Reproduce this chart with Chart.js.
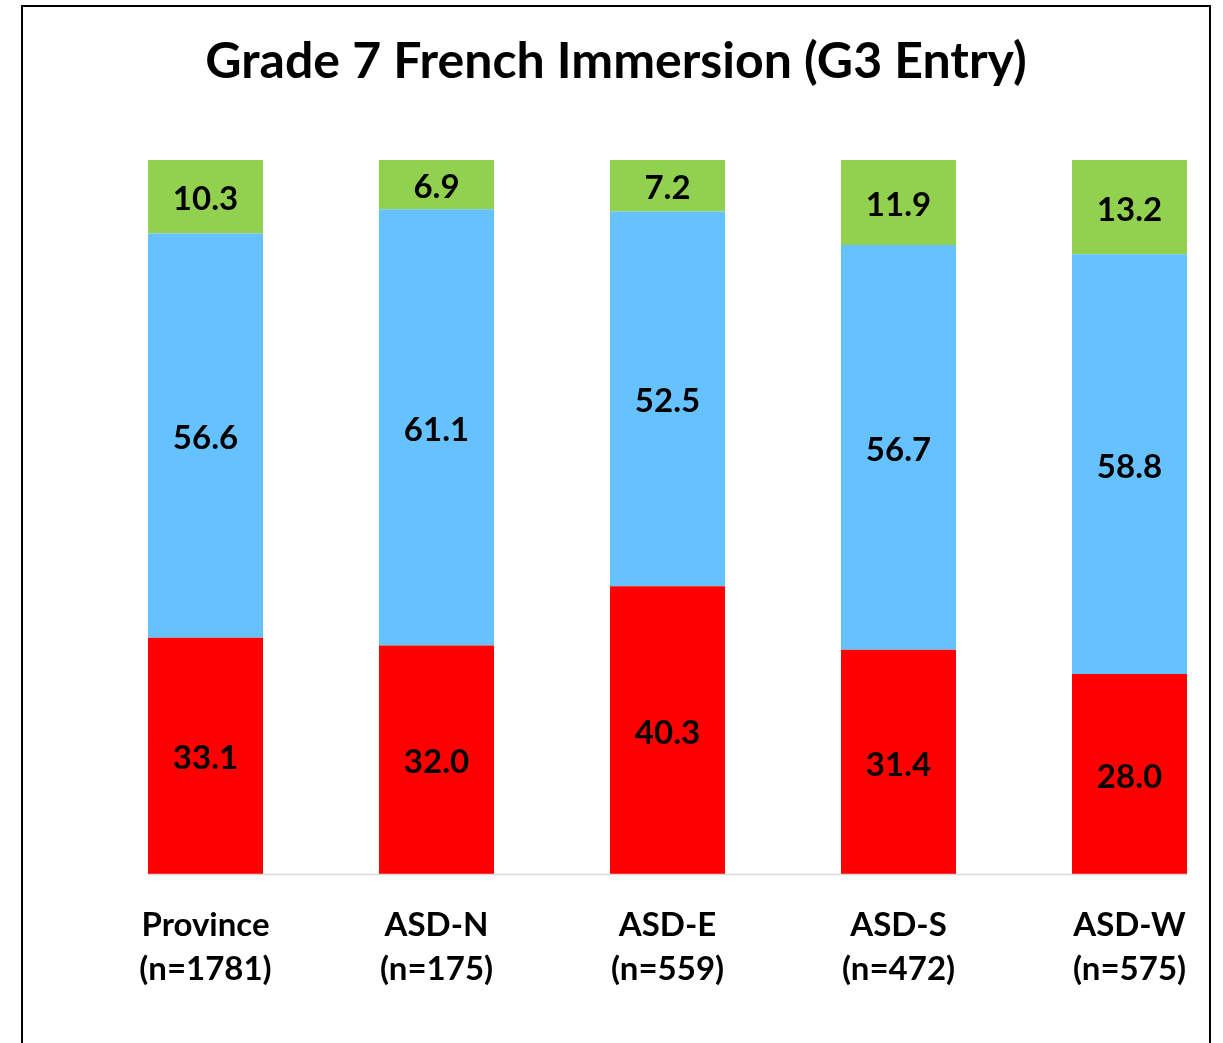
<!DOCTYPE html>
<html><head><meta charset="utf-8">
<script src="https://cdn.jsdelivr.net/npm/chart.js@4/dist/chart.umd.min.js"></script>
<style>html,body{margin:0;padding:0;background:#fff}#wrap{width:1223px;height:1043px;position:relative}canvas{display:block}</style>
</head><body><div id="wrap"><canvas id="c" width="1223" height="1043"></canvas></div>
<script>
const chartTitle = 'Grade 7 French Immersion (G3 Entry)';
const categories = [['Province','(n=1781)'],['ASD-N','(n=175)'],['ASD-E','(n=559)'],['ASD-S','(n=472)'],['ASD-W','(n=575)']];
const redValues = [33.1, 32.0, 40.3, 31.4, 28.0];
const blueValues = [56.6, 61.1, 52.5, 56.7, 58.8];
const greenValues = [10.3, 6.9, 7.2, 11.9, 13.2];
const seriesNames = ['Red', 'Blue', 'Green'];

const FONT = 'Lato, "Open Sans", sans-serif';

const framePlugin = {
  id: 'frame',
  beforeDraw(chart) {
    const ctx = chart.ctx;
    ctx.save();
    ctx.fillStyle = '#fff';
    ctx.fillRect(0, 0, chart.width, chart.height);
    ctx.strokeStyle = '#000';
    ctx.lineWidth = 2;
    ctx.strokeRect(22, 6, 1188, 1100);
    ctx.font = 'bold 50px ' + FONT;
    ctx.fillStyle = '#000';
    ctx.textAlign = 'center';
    ctx.textBaseline = 'alphabetic';
    ctx.fillText(chartTitle, 616, 78);
    ctx.restore();
  }
};

const axisLinePlugin = {
  id: 'axisLine',
  afterDatasetsDraw(chart) {
    const meta = chart.getDatasetMeta(0);
    const els = meta.data;
    if (!els.length) return;
    const first = els[0], last = els[els.length - 1];
    const x0 = first.x - first.width / 2;
    const x1 = last.x + last.width / 2;
    const y = chart.scales.y.getPixelForValue(0);
    const ctx = chart.ctx;
    ctx.save();
    ctx.strokeStyle = '#D9D9D9';
    ctx.lineWidth = 1.5;
    ctx.beginPath();
    ctx.moveTo(x0, y + 0.5);
    ctx.lineTo(x1, y + 0.5);
    ctx.stroke();
    ctx.restore();
  }
};

const valueLabelPlugin = {
  id: 'valueLabels',
  afterDatasetsDraw(chart) {
    const ctx = chart.ctx;
    ctx.save();
    ctx.font = 'bold 33px ' + FONT;
    ctx.fillStyle = '#000';
    ctx.textAlign = 'center';
    ctx.textBaseline = 'middle';
    chart.data.datasets.forEach((ds, di) => {
      const meta = chart.getDatasetMeta(di);
      meta.data.forEach((el, i) => {
        const v = ds.data[i];
        ctx.fillText(v.toFixed(1), el.x, (el.y + el.base) / 2 + 3);
      });
    });
    ctx.restore();
  }
};

new Chart(document.getElementById('c'), {
  type: 'bar',
  data: {
    labels: categories,
    datasets: [
      { label: seriesNames[0], data: redValues, backgroundColor: '#FF0000' },
      { label: seriesNames[1], data: blueValues, backgroundColor: '#66C2FF' },
      { label: seriesNames[2], data: greenValues, backgroundColor: '#92D050' }
    ]
  },
  options: {
    responsive: false,
    animation: false,
    devicePixelRatio: 1,
    layout: { padding: { left: 205.5, right: 93.5, top: 160, bottom: 0 } },
    datasets: { bar: { categoryPercentage: 1, barPercentage: 115 / 231, clip: false, borderWidth: 0 } },
    plugins: {
      legend: { display: false },
      tooltip: { enabled: false },
      title: { display: false }
    },
    scales: {
      x: {
        stacked: true,
        offset: false,
        grid: { display: false, drawTicks: false },
        border: { display: false },
        ticks: { color: '#000', font: { family: FONT, size: 33, weight: 'bold', lineHeight: 1.35 }, padding: 29, maxRotation: 0, autoSkip: false },
        afterFit(scale) { scale.height = 169; }
      },
      y: {
        stacked: true,
        display: false,
        min: 0,
        max: 100
      }
    }
  },
  plugins: [framePlugin, axisLinePlugin, valueLabelPlugin]
});
</script>
</body></html>
